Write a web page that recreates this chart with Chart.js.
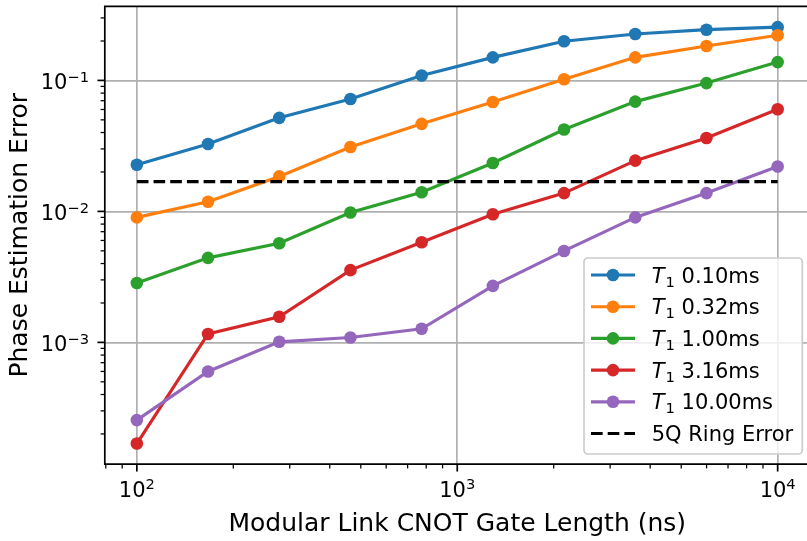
<!DOCTYPE html>
<html><head><meta charset="utf-8">
<script src="https://cdn.jsdelivr.net/npm/chart.js@4/dist/chart.umd.min.js"></script>
<style>
html,body{margin:0;padding:0;overflow:hidden;background:#fff;width:807px;height:541px}
#wrap{position:absolute;left:0;top:0;width:816px;height:541px}
</style></head><body><div id="wrap"><canvas id="c" width="816" height="541"></canvas></div>
<script>
// ---- data ----
const gateLengths = [100, 166.8, 278.3, 464.2, 774.3, 1291.5, 2154.4, 3593.8, 5994.8, 10000];
const t1Labels = ['0.10ms', '0.32ms', '1.00ms', '3.16ms', '10.00ms'];
const errT1_010 = [0.0227, 0.0327, 0.0518, 0.0722, 0.109, 0.150, 0.199, 0.226, 0.244, 0.255];
const errT1_032 = [0.0090, 0.01185, 0.0185, 0.0310, 0.0466, 0.0684, 0.102, 0.150, 0.183, 0.221];
const errT1_100 = [0.00284, 0.00442, 0.00571, 0.0098, 0.0140, 0.0234, 0.0422, 0.0689, 0.0954, 0.138];
const errT1_316 = [0.000169, 0.00116, 0.00157, 0.00356, 0.00582, 0.0095, 0.0138, 0.0244, 0.0363, 0.0602];
const errT1_1000 = [0.000255, 0.00060, 0.00101, 0.00109, 0.00127, 0.0027, 0.00499, 0.0090, 0.0138, 0.0220];
const ringError = 0.0169;
const ringLabel = '5Q Ring Error';
const xTickPowers = [2, 3, 4];
const yTickPowers = [-3, -2, -1];
const xTitle = 'Modular Link CNOT Gate Length (ns)';
const yTitle = 'Phase Estimation Error';

const colors = ['#1f77b4', '#ff7f0e', '#2ca02c', '#d62728', '#9467bd'];
const seriesVals = [errT1_010, errT1_032, errT1_100, errT1_316, errT1_1000];

const FONT = '"DejaVu Sans", sans-serif';

function minorList(lo, hi) {
  const out = [];
  for (let e = Math.floor(Math.log10(lo)) ; e <= Math.ceil(Math.log10(hi)); e++) {
    for (let m = 1; m <= 9; m++) {
      const v = m * Math.pow(10, e);
      if (v >= lo * 0.9999 && v <= hi * 1.0001) out.push(v);
    }
  }
  return out;
}
function isMajor(v) {
  const l = Math.log10(v);
  return Math.abs(l - Math.round(l)) < 1e-6;
}

const XMIN = Math.pow(10, 1.9), XMAX = Math.pow(10, 4.1);
const YMIN = 1.175e-4, YMAX = 0.368;

const datasets = seriesVals.map((vals, i) => ({
  label: 'T1 ' + t1Labels[i],
  data: gateLengths.map((x, j) => ({x: x, y: vals[j]})),
  borderColor: colors[i],
  backgroundColor: colors[i],
  borderWidth: 3.15,
  pointRadius: 6.3,
  pointHoverRadius: 6.3,
  pointBorderWidth: 0,
  pointBackgroundColor: colors[i],
  tension: 0,
  fill: false,
  order: 6 - i
}));
datasets.push({
  label: ringLabel,
  data: [{x: gateLengths[0], y: ringError}, {x: gateLengths[gateLengths.length - 1], y: ringError}],
  borderColor: '#000',
  borderWidth: 3.15,
  borderDash: [11.65, 5.04],
  pointRadius: 0,
  fill: false,
  order: 0
});

function powLabel(ctx, exp, x, y, mode) {
  const base = '10';
  const ex = exp < 0 ? '\u2212' + Math.abs(exp) : String(exp);
  ctx.font = '21px ' + FONT;
  const wb = ctx.measureText(base).width;
  ctx.font = '14.7px ' + FONT;
  const we = ctx.measureText(ex).width;
  const total = wb + we;
  let x0 = mode === 'center' ? x - total / 2 : x - total;
  ctx.fillStyle = '#000';
  ctx.textAlign = 'left';
  ctx.textBaseline = 'alphabetic';
  ctx.font = '21px ' + FONT;
  ctx.fillText(base, x0, y);
  ctx.font = '14.7px ' + FONT;
  ctx.fillText(ex, x0 + wb, y - 7.7);
}

const decor = {
  id: 'decor',
  afterDatasetsDraw(chart) {
    const {ctx, chartArea: a} = chart;
    ctx.save();
    ctx.strokeStyle = '#000';
    ctx.lineWidth = 1.7;
    ctx.beginPath();
    ctx.rect(a.left, a.top, a.right - a.left, a.bottom - a.top);
    ctx.stroke();
    ctx.restore();
  },
  afterDraw(chart) {
    const {ctx, chartArea: a, scales} = chart;
    const xs = scales.x, ys = scales.y;
    ctx.save();
    ctx.strokeStyle = '#000';
    // x ticks
    xs.ticks.forEach(t => {
      const px = xs.getPixelForValue(t.value);
      const maj = isMajor(t.value);
      ctx.lineWidth = maj ? 1.7 : 1.26;
      ctx.beginPath();
      ctx.moveTo(px, a.bottom);
      ctx.lineTo(px, a.bottom + (maj ? 7.35 : 4.2));
      ctx.stroke();
    });
    ys.ticks.forEach(t => {
      const py = ys.getPixelForValue(t.value);
      const maj = isMajor(t.value);
      ctx.lineWidth = maj ? 1.7 : 1.26;
      ctx.beginPath();
      ctx.moveTo(a.left, py);
      ctx.lineTo(a.left - (maj ? 7.35 : 4.2), py);
      ctx.stroke();
    });
    // tick labels
    xTickPowers.forEach(p => {
      const px = xs.getPixelForValue(Math.pow(10, p));
      powLabel(ctx, p, px, a.bottom + 32.5, 'center');
    });
    yTickPowers.forEach(p => {
      const py = ys.getPixelForValue(Math.pow(10, p));
      powLabel(ctx, p, py === undefined ? 0 : 89, py + 9, 'right');
    });
    // axis titles
    ctx.fillStyle = '#000';
    ctx.font = '25px ' + FONT;
    ctx.textAlign = 'center';
    ctx.textBaseline = 'alphabetic';
    ctx.fillText(xTitle, (a.left + a.right) / 2, 531);
    ctx.save();
    ctx.translate(27, (a.top + a.bottom) / 2);
    ctx.rotate(-Math.PI / 2);
    ctx.fillText(yTitle, 0, 0);
    ctx.restore();

    // legend
    const lx = 584, ly = 258, lw = 218.3, lh = 196;
    ctx.beginPath();
    if (ctx.roundRect) ctx.roundRect(lx, ly, lw, lh, 4); else ctx.rect(lx, ly, lw, lh);
    ctx.fillStyle = 'rgba(255,255,255,0.8)';
    ctx.fill();
    ctx.strokeStyle = '#cccccc';
    ctx.lineWidth = 1.7;
    ctx.stroke();
    const rowH = 31.7, row0 = 275;
    const hx0 = 591, hx1 = 635, tx = 651.7;
    for (let i = 0; i < 6; i++) {
      const cy = row0 + i * rowH;
      ctx.lineWidth = 3.15;
      if (i < 5) {
        ctx.setLineDash([]);
        ctx.strokeStyle = colors[i];
        ctx.beginPath(); ctx.moveTo(hx0, cy); ctx.lineTo(hx1, cy); ctx.stroke();
        ctx.fillStyle = colors[i];
        ctx.beginPath(); ctx.arc((hx0 + hx1) / 2, cy, 6.3, 0, Math.PI * 2); ctx.fill();
      } else {
        ctx.setLineDash([11.65, 5.04]);
        ctx.strokeStyle = '#000';
        ctx.beginPath(); ctx.moveTo(hx0, cy); ctx.lineTo(hx1, cy); ctx.stroke();
        ctx.setLineDash([]);
      }
      const base = cy + 7.65;
      ctx.fillStyle = '#000';
      ctx.textAlign = 'left';
      if (i < 5) {
        let x = tx;
        ctx.font = 'italic 21px ' + FONT;
        ctx.fillText('T', x, base);
        x += ctx.measureText('T').width + 1;
        ctx.font = '14.7px ' + FONT;
        ctx.fillText('1', x, base + 4);
        x += ctx.measureText('1').width;
        ctx.font = '21px ' + FONT;
        ctx.fillText(' ' + t1Labels[i], x, base);
      } else {
        ctx.font = '21px ' + FONT;
        ctx.fillText(ringLabel, tx, base);
      }
    }
    ctx.restore();
  }
};

function gridColor(c) {
  return (c.tick && isMajor(c.tick.value)) ? '#b0b0b0' : 'rgba(0,0,0,0)';
}

new Chart(document.getElementById('c'), {
  type: 'line',
  data: {datasets: datasets},
  options: {
    responsive: false,
    animation: false,
    devicePixelRatio: 1,
    layout: {padding: {top: 4.3, right: 3, left: 0, bottom: 0}},
    plugins: {legend: {display: false}, tooltip: {enabled: false}},
    events: [],
    scales: {
      x: {
        type: 'logarithmic',
        min: XMIN, max: XMAX,
        afterBuildTicks: s => { s.ticks = minorList(XMIN, XMAX).map(v => ({value: v, major: isMajor(v)})); },
        afterFit: s => { s.height = 541 - 464.2 - 0; },
        ticks: {display: false, autoSkip: false},
        grid: {color: gridColor, lineWidth: 1.7, drawTicks: false},
        border: {display: false}
      },
      y: {
        type: 'logarithmic',
        min: YMIN, max: YMAX,
        afterBuildTicks: s => { s.ticks = minorList(YMIN, YMAX).map(v => ({value: v, major: isMajor(v)})); },
        afterFit: s => { s.width = 104.8; },
        ticks: {display: false, autoSkip: false},
        grid: {color: gridColor, lineWidth: 1.7, drawTicks: false},
        border: {display: false}
      }
    }
  },
  plugins: [decor]
});
</script>
</body></html>
